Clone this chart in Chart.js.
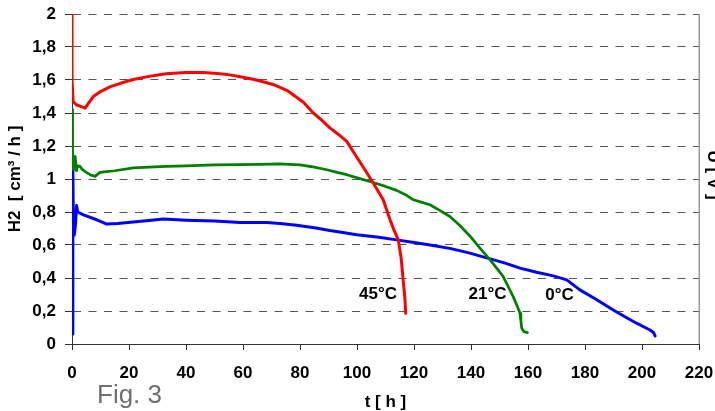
<!DOCTYPE html>
<html>
<head>
<meta charset="utf-8">
<script src="https://cdn.jsdelivr.net/npm/chart.js@4"></script>
<style>
  html, body { margin: 0; padding: 0; background: #fff; }
  #wrap { width: 715px; height: 411px; }
</style>
</head>
<body>
<div id="wrap"><canvas id="c" width="715" height="411"></canvas></div>
<script>
// ---- data ----
const t45 = [0, 0, 0.4, 1.5, 3, 4.6, 6, 7.5, 10, 13.3, 17, 21.5, 27, 33, 40, 46, 51, 55.4, 59, 64, 68, 70.5, 73, 75.9, 78.8, 81.2, 84.7, 87.5, 90.5, 93.5, 96.4, 100, 103, 105.7, 109.2, 111.6, 113, 114.5, 115.5, 116.3, 116.8, 117.1];
const h45 = [2.0, 1.6, 1.47, 1.45, 1.44, 1.43, 1.465, 1.50, 1.53, 1.558, 1.58, 1.603, 1.622, 1.638, 1.646, 1.646, 1.640, 1.631, 1.62, 1.603, 1.585, 1.573, 1.555, 1.532, 1.495, 1.465, 1.40, 1.358, 1.31, 1.27, 1.228, 1.13, 1.05, 0.976, 0.874, 0.753, 0.69, 0.631, 0.52, 0.369, 0.28, 0.186];

const t21 = [0, 0.2, 0.5, 0.8, 1.1, 1.6, 2.0, 2.8, 3.5, 5, 6.5, 8.1, 9.8, 12, 15, 21.5, 27, 33, 40, 50, 59, 66, 73, 80, 85, 89.4, 93, 96.4, 101, 105.7, 110, 113.9, 117, 119.8, 122.5, 125.6, 129, 132.6, 136, 139.6, 143.2, 146.7, 149, 151.3, 153, 154.8, 156.2, 157.2, 157.5, 157.8, 158.6, 159.8];
const h21 = [1.42, 1.06, 1.10, 1.06, 1.137, 1.05, 1.08, 1.077, 1.06, 1.04, 1.025, 1.016, 1.04, 1.045, 1.05, 1.067, 1.072, 1.077, 1.08, 1.085, 1.087, 1.088, 1.091, 1.085, 1.072, 1.056, 1.04, 1.026, 1.002, 0.979, 0.955, 0.931, 0.905, 0.874, 0.86, 0.844, 0.81, 0.773, 0.72, 0.655, 0.58, 0.51, 0.46, 0.409, 0.35, 0.287, 0.23, 0.186, 0.14, 0.095, 0.075, 0.069];

const t0 = [0.2, 0.3, 0.5, 0.8, 1.2, 1.6, 2.0, 4, 8.7, 12.2, 16, 21.5, 27, 32, 40, 50, 59, 68.3, 73, 78.8, 85, 90.5, 95, 99.9, 107, 113.9, 120, 125.6, 133, 139.6, 146.7, 152, 157.2, 163, 168.9, 173.6, 178.2, 184, 189.9, 194, 198.1, 202.8, 204, 204.6];
const h0 = [0.06, 1.06, 0.70, 0.66, 0.72, 0.84, 0.80, 0.783, 0.753, 0.727, 0.73, 0.739, 0.748, 0.757, 0.75, 0.745, 0.737, 0.737, 0.73, 0.72, 0.705, 0.688, 0.676, 0.662, 0.648, 0.631, 0.615, 0.60, 0.578, 0.551, 0.516, 0.49, 0.46, 0.435, 0.413, 0.389, 0.328, 0.27, 0.206, 0.165, 0.126, 0.085, 0.07, 0.049];

const seriesNames = ['45°C', '21°C', '0°C'];
const seriesColors = ['#ff0000', '#008000', '#0000ff'];
// label anchor positions (data coordinates) for the in-plot series labels
const labelX = [107.4, 145.8, 171.1];
const labelY = [0.30, 0.30, 0.295];

const xTitle = 't [ h ]';
const yTitle = 'H2  [ cm³ / h ]';
const y2Title = 'U [ V ]';
const figText = 'Fig. 3';

const FONT = "'Liberation Sans', Arial, Helvetica, sans-serif";

function pts(xs, ys) { return xs.map((x, i) => ({ x: x, y: ys[i] })); }

const annot = {
  id: 'annot',
  afterDatasetsDraw(chart) {
    const ctx = chart.ctx;
    const xs = chart.scales.x, ys = chart.scales.y;
    const a = chart.chartArea;
    ctx.save();
    // right frame line
    ctx.strokeStyle = '#9a9a9a';
    ctx.lineWidth = 1.5;
    ctx.beginPath();
    ctx.moveTo(a.right + 0.25, a.top);
    ctx.lineTo(a.right + 0.25, a.bottom);
    ctx.stroke();
    // series labels
    ctx.fillStyle = '#000';
    ctx.font = 'bold 17px ' + FONT;
    ctx.textAlign = 'center';
    ctx.textBaseline = 'middle';
    for (let i = 0; i < seriesNames.length; i++) {
      ctx.fillText(seriesNames[i], xs.getPixelForValue(labelX[i]), ys.getPixelForValue(labelY[i]));
    }
    // figure caption
    ctx.fillStyle = '#707070';
    ctx.font = '26px ' + FONT;
    ctx.textAlign = 'left';
    ctx.textBaseline = 'alphabetic';
    ctx.fillText(figText, 97, 403);
    // cut-off right axis title
    ctx.translate(708, 175);
    ctx.rotate(Math.PI / 2);
    ctx.fillStyle = '#000';
    ctx.font = 'bold 17px ' + FONT;
    ctx.textAlign = 'center';
    ctx.fillText(y2Title, 0, 0);
    ctx.restore();
  }
};

new Chart(document.getElementById('c'), {
  type: 'line',
  data: {
    datasets: [
      { label: seriesNames[0], data: pts(t45, h45), borderColor: seriesColors[0], borderWidth: 3 },
      { label: seriesNames[1], data: pts(t21, h21), borderColor: seriesColors[1], borderWidth: 2.75 },
      { label: seriesNames[2], data: pts(t0, h0), borderColor: seriesColors[2], borderWidth: 3 }
    ]
  },
  options: {
    responsive: false,
    animation: false,
    devicePixelRatio: 1,
    elements: {
      point: { radius: 0 },
      line: { tension: 0, borderJoinStyle: 'round', borderCapStyle: 'round', fill: false }
    },
    layout: { padding: { top: 14, right: 16, bottom: 0, left: 0 } },
    plugins: { legend: { display: false }, tooltip: { enabled: false } },
    scales: {
      x: {
        type: 'linear',
        min: 0, max: 220,
        ticks: { stepSize: 20, color: '#000', font: { family: FONT, size: 17, weight: 'bold' }, padding: 13, maxRotation: 0 },
        grid: { drawOnChartArea: false, drawTicks: true, tickLength: 6, tickColor: '#333', color: '#333' },
        border: { display: true, color: '#333', width: 1 },
        title: { display: true, text: xTitle, color: '#000', font: { family: FONT, size: 17, weight: 'bold' }, padding: { top: 0, bottom: -2 } },
        afterFit(s) { s.height = 67; s.paddingLeft = 0; s.paddingRight = 0; }
      },
      y: {
        min: 0, max: 2,
        ticks: {
          stepSize: 0.2, color: '#000', font: { family: FONT, size: 17, weight: 'bold' }, padding: 9,
          callback: v => String(Math.round(v * 10) / 10).replace('.', ',')
        },
        grid: { color: '#555', lineWidth: 1, drawTicks: true, tickLength: 7, tickColor: '#333' },
        border: { display: true, color: '#333', width: 1, dash: [8, 7.5] },
        title: { display: true, text: yTitle, color: '#000', font: { family: FONT, size: 17, weight: 'bold' }, padding: { top: 5, bottom: 0 } },
        afterFit(s) { s.width = 72; s.paddingTop = 0; s.paddingBottom = 0; }
      }
    }
  },
  plugins: [annot]
});
</script>
</body>
</html>
